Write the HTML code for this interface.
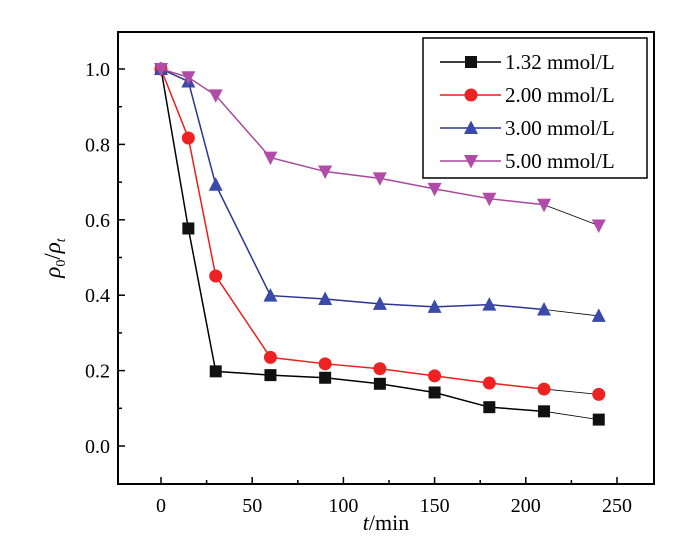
<!DOCTYPE html>
<html><head><meta charset="utf-8"><style>
html,body{margin:0;padding:0;background:#fff;}
svg text{font-family:"Liberation Serif",serif;fill:#000;}
</style></head><body>
<svg id="chart" width="700" height="551" xmlns="http://www.w3.org/2000/svg">
<rect x="0" y="0" width="700" height="551" fill="#fff"/>
<g id="marks"></g>
<g id="axes"></g>
</svg>
<script>
const times = [0, 15, 30, 60, 90, 120, 150, 180, 210, 240];
const series132 = [1.0, 0.577, 0.198, 0.188, 0.181, 0.165, 0.142, 0.103, 0.092, 0.070];
const series200 = [1.0, 0.817, 0.451, 0.235, 0.218, 0.205, 0.186, 0.167, 0.151, 0.137];
const series300 = [1.0, 0.967, 0.693, 0.399, 0.390, 0.377, 0.369, 0.375, 0.362, 0.345];
const series500 = [1.0, 0.978, 0.930, 0.765, 0.728, 0.710, 0.682, 0.656, 0.640, 0.585];
const seriesLabels = ["1.32 mmol/L", "2.00 mmol/L", "3.00 mmol/L", "5.00 mmol/L"];
const xTicks = [0, 50, 100, 150, 200, 250];
const yTicks = [0.0, 0.2, 0.4, 0.6, 0.8, 1.0];

const NS = "http://www.w3.org/2000/svg";
const L = 118, R = 654, T = 32, B = 484;
const x0 = 161, xPer = 456 / 250;
const y0 = 446, yPer = 377;
function sx(v){ return x0 + v * xPer; }
function sy(v){ return y0 - v * yPer; }
function mk(tag, attrs, parent){
  const e = document.createElementNS(NS, tag);
  for (const k in attrs) e.setAttribute(k, attrs[k]);
  parent.appendChild(e);
  return e;
}
const marks = document.getElementById('marks');
const axes = document.getElementById('axes');

const colors = ["#000000", "#ee1c1c", "#2b3590", "#a8489c"];
const fills = ["#111111", "#ee2222", "#3a4aa8", "#b04ca8"];
const shapes = ["square", "circle", "up", "down"];
const allSeries = [series132, series200, series300, series500];

function marker(shape, cx, cy, fill, parent, r){
  let e;
  if (shape === "square") e = mk('rect', {x: cx - r, y: cy - r, width: 2*r, height: 2*r, fill: fill}, parent);
  else if (shape === "circle") e = mk('circle', {cx: cx, cy: cy, r: r + 0.5, fill: fill}, parent);
  else if (shape === "up") e = mk('polygon', {points: `${cx},${cy - r - 1.5} ${cx - r - 1},${cy + r} ${cx + r + 1},${cy + r}`, fill: fill}, parent);
  else e = mk('polygon', {points: `${cx},${cy + r + 1.5} ${cx - r - 1},${cy - r} ${cx + r + 1},${cy - r}`, fill: fill}, parent);
  return e;
}

const frame = mk('rect', {x: L, y: T, width: R - L, height: B - T, fill: 'none', stroke: '#000', 'stroke-width': 2}, axes);



xTicks.forEach((v, i) => {
  const x = sx(v);
  const t = mk('line', {x1: x, y1: B, x2: x, y2: B - 7, stroke: '#000', 'stroke-width': 1.5}, axes);
  
  
  if (i < xTicks.length - 1) {
    const xm = sx(v + 25);
    mk('line', {x1: xm, y1: B, x2: xm, y2: B - 4, stroke: '#000', 'stroke-width': 1.5}, axes);
  }
  const lab = mk('text', {x: x, y: B + 28, 'font-size': 20, 'text-anchor': 'middle'}, axes);
  lab.textContent = String(v);
  
  
});
yTicks.forEach((v, i) => {
  const y = sy(v);
  const t = mk('line', {x1: L, y1: y, x2: L + 7, y2: y, stroke: '#000', 'stroke-width': 1.5}, axes);
  
  
  const ym = sy(v - 0.1);
  if (ym < B) mk('line', {x1: L, y1: ym, x2: L + 4, y2: ym, stroke: '#000', 'stroke-width': 1.5}, axes);
  const lab = mk('text', {x: L - 8, y: y + 7, 'font-size': 20, 'text-anchor': 'end'}, axes);
  lab.textContent = v.toFixed(1);
  
  
});
{
  const ym = sy(1.1);
  if (ym > T) mk('line', {x1: L, y1: ym, x2: L + 4, y2: ym, stroke: '#000', 'stroke-width': 1.5}, axes);
}
const xt = mk('text', {x: 386, y: 530, 'font-size': 22, 'text-anchor': 'middle'}, axes);
xt.innerHTML = '<tspan font-style="italic">t</tspan>/min';


const yt = mk('text', {x: 0, y: 0, 'font-size': 23, 'text-anchor': 'middle', transform: 'translate(60,258) rotate(-90)'}, axes);
yt.innerHTML = '<tspan font-style="italic">ρ</tspan><tspan font-size="14" dy="5">0</tspan><tspan dy="-5">/</tspan><tspan font-style="italic">ρ</tspan><tspan font-size="14" font-style="italic" dy="5">t</tspan>';



allSeries.forEach((vals, s) => {
  const g = mk('g', {}, marks);
  
  
  const n = vals.length;
  const pts = vals.slice(0, n - 1).map((v, i) => sx(times[i]) + ',' + sy(v)).join(' ');
  const line = mk('polyline', {points: pts, fill: 'none', stroke: colors[s], 'stroke-width': 1.5}, g);
  
  
  mk('line', {x1: sx(times[n-2]), y1: sy(vals[n-2]), x2: sx(times[n-1]), y2: sy(vals[n-1]), stroke: '#000', 'stroke-width': 0.8}, g);
  vals.forEach((v, i) => {
    const m = marker(shapes[s], sx(times[i]), sy(v), fills[s], g, 6);
    
    
  });
});

const leg = mk('g', {}, axes);


mk('rect', {x: 423, y: 38, width: 224, height: 140, fill: '#fff', stroke: '#000', 'stroke-width': 1.5}, leg);
seriesLabels.forEach((lab, s) => {
  const y = 62 + s * 33;
  const e = mk('g', {}, leg);
  
  
  mk('line', {x1: 440, y1: y, x2: 501, y2: y, stroke: colors[s], 'stroke-width': 1.5}, e);
  marker(shapes[s], 471, y, fills[s], e, 6);
  const t = mk('text', {x: 505, y: y + 7, 'font-size': 21}, e);
  t.textContent = lab;
});
</script>
</body></html>
